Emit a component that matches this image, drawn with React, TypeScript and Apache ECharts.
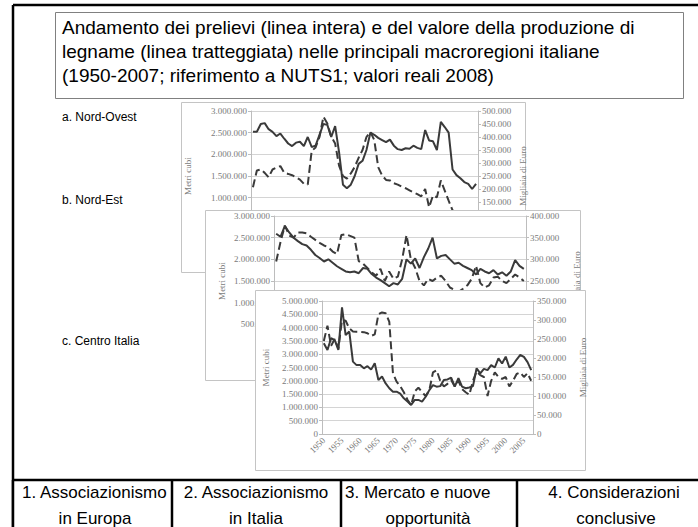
import React, { useEffect, useRef } from "react";
import * as echarts from "echarts";

const categories = [
  "1950","1951","1952","1953","1954","1955","1956","1957","1958","1959",
  "1960","1961","1962","1963","1964","1965","1966","1967","1968","1969",
  "1970","1971","1972","1973","1974","1975","1976","1977","1978","1979",
  "1980","1981","1982","1983","1984","1985","1986","1987","1988","1989",
  "1990","1991","1992","1993","1994","1995","1996","1997","1998","1999",
  "2000","2001","2002","2003","2004","2005","2006","2007",
];
const xTickLabels = ["1950","1955","1960","1965","1970","1975","1980","1985","1990","1995","2000","2005"];

// a. Nord-Ovest
const nordOvestPrelievi = [
  2520000, 2520000, 2700000, 2720000, 2580000, 2520000, 2420000, 2480000, 2360000, 2250000,
  2190000, 2270000, 2290000, 2190000, 2400000, 2170000, 2200000, 2450000, 2700000, 2680000,
  2400000, 2650000, 2050000, 1300000, 1220000, 1300000, 1500000, 1780000, 1850000, 2100000,
  2500000, 2450000, 2380000, 2330000, 2280000, 2340000, 2200000, 2120000, 2100000, 2140000,
  2130000, 2200000, 2150000, 2120000, 2560000, 2320000, 2300000, 2100000, 2750000, 2630000,
  2500000, 1650000, 1520000, 1450000, 1360000, 1320000, 1200000, 1320000,
];
const nordOvestValore = [
  207000, 271000, 275000, 262000, 245000, 275000, 282000, 288000, 262000, 258000,
  253000, 245000, 236000, 220000, 217000, 346000, 360000, 400000, 478000, 452000,
  401000, 375000, 290000, 250000, 240000, 260000, 285000, 320000, 350000, 400000,
  420000, 388000, 284000, 252000, 235000, 233000, 222000, 217000, 209000, 203000,
  195000, 187000, 180000, 172000, 200000, 130000, 175000, 168000, 233000, 194000,
  155000, 118000, 95000, 85000, 90000, 80000, 85000, 90000,
];

// b. Nord-Est
const nordEstPrelievi = [
  2590000, 2520000, 2770000, 2620000, 2500000, 2420000, 2350000, 2320000, 2220000, 2100000,
  2030000, 1950000, 2000000, 1920000, 1840000, 1780000, 1720000, 1700000, 1720000, 1680000,
  1800000, 1780000, 1660000, 1580000, 1520000, 1450000, 1380000, 1450000, 1420000, 1550000,
  2000000, 1900000, 2020000, 1800000, 2050000, 2250000, 2500000, 2020000, 2080000, 2100000,
  2000000, 1900000, 1920000, 1850000, 1800000, 1750000, 1650000, 1780000, 1720000, 1680000,
  1750000, 1650000, 1700000, 1620000, 1720000, 1980000, 1850000, 1780000,
];
const nordEstValore = [
  295000, 340000, 378000, 355000, 350000, 362000, 362000, 360000, 352000, 345000,
  338000, 332000, 328000, 318000, 312000, 356000, 358000, 354000, 350000, 296000,
  290000, 280000, 270000, 262000, 278000, 250000, 272000, 255000, 260000, 300000,
  356000, 300000, 280000, 250000, 240000, 255000, 250000, 258000, 262000, 250000,
  235000, 230000, 225000, 232000, 240000, 255000, 285000, 245000, 235000, 240000,
  258000, 260000, 250000, 245000, 255000, 265000, 258000, 250000,
];

// c. Centro Italia
const centroPrelievi = [
  3410000, 3160000, 3600000, 3530000, 3160000, 4760000, 3720000, 3850000, 2720000, 2590000,
  2590000, 2470000, 2550000, 2420000, 2660000, 2030000, 2160000, 1900000, 1720000, 1590000,
  1590000, 1520000, 1340000, 1220000, 1090000, 1280000, 1280000, 1220000, 1400000, 1650000,
  1840000, 1780000, 1800000, 2030000, 2050000, 2120000, 1780000, 2100000, 1780000, 1720000,
  1750000, 1800000, 2470000, 2280000, 2450000, 2400000, 2590000, 2500000, 2840000, 2650000,
  2910000, 2500000, 2600000, 2800000, 2970000, 2900000, 2700000, 2400000,
];
const centroValore = [
  245000, 285000, 232000, 250000, 225000, 300000, 298000, 278000, 270000, 269000,
  269000, 268000, 265000, 258000, 262000, 315000, 320000, 318000, 295000, 160000,
  138000, 126000, 110000, 90000, 76000, 112000, 122000, 110000, 100000, 115000,
  162000, 168000, 140000, 125000, 132000, 142000, 125000, 140000, 118000, 110000,
  103000, 140000, 165000, 155000, 150000, 100000, 140000, 162000, 150000, 145000,
  150000, 125000, 140000, 158000, 162000, 150000, 160000, 140000,
];

const titleLines = [
  "Andamento dei prelievi (linea intera) e del valore della produzione di",
  "legname (linea tratteggiata) nelle principali macroregioni italiane",
  "(1950-2007; riferimento a NUTS1; valori reali 2008)",
];
const panelLabels = ["a. Nord-Ovest", "b. Nord-Est", "c. Centro Italia"];
const leftAxisName = "Metri cubi";
const rightAxisName = "Migliaia di Euro";

const fmt = (v: number) => String(Math.round(v)).replace(/\B(?=(\d{3})+(?!\d))/g, ".");

const SANS = '"Liberation Sans", Arial, sans-serif';
const SERIF = '"Liberation Serif", "Times New Roman", serif';
const LINE = "#3a3a3a";
const GRID = "#d4d4d4";
const LABEL = "#7a7a7a";

export default function App() {
  const ref = useRef<HTMLDivElement>(null);
  useEffect(() => {
    if (!ref.current) return;
    const chart = echarts.init(ref.current, undefined, { renderer: "svg" });

    const grids = [
      { left: 251, top: 111, width: 227, height: 130 },
      { left: 274, top: 216, width: 252, height: 130 },
      { left: 322, top: 301, width: 211, height: 133 },
    ];
    const zBase = [2, 11, 21];
    // labelFrom: tick labels below this value lie under the next (overlapping) chart picture
    const leftCfg = [
      { min: 0, max: 3000000, interval: 500000, gap: 59, labelFrom: 1000000 },
      { min: 0, max: 3000000, interval: 500000, gap: 48, labelFrom: 500000 },
      { min: 0, max: 5000000, interval: 500000, gap: 52, labelFrom: 0 },
    ];
    const rightCfg = [
      { min: 0, max: 500000, interval: 50000, gap: 40, labelFrom: 150000 },
      { min: 100000, max: 400000, interval: 50000, gap: 46, labelFrom: 250000 },
      { min: 0, max: 350000, interval: 50000, gap: 45, labelFrom: 0 },
    ];
    const solid = [nordOvestPrelievi, nordEstPrelievi, centroPrelievi];
    const dashed = [nordOvestValore, nordEstValore, centroValore];

    const xAxis = grids.map((_, i) => ({
      type: "category",
      gridIndex: i,
      data: categories,
      boundaryGap: true,
      z: zBase[i],
      axisLine: { show: true, lineStyle: { color: "#bdbdbd", width: 1 } },
      axisTick: { show: false },
      axisLabel: {
        show: i === 2,
        interval: (_idx: number, value: string) => xTickLabels.includes(value),
        rotate: 45,
        fontFamily: SERIF,
        fontSize: 9,
        color: LABEL,
        margin: 5,
      },
      splitLine: { show: false },
    }));

    const yAxis: any[] = [];
    grids.forEach((_, i) => {
      const lc = leftCfg[i];
      const rc = rightCfg[i];
      yAxis.push({
        type: "value",
        gridIndex: i,
        position: "left",
        min: lc.min,
        max: lc.max,
        interval: lc.interval,
        z: zBase[i],
        name: leftAxisName,
        nameLocation: "middle",
        nameRotate: 90,
        nameGap: lc.gap,
        nameTextStyle: { fontFamily: SERIF, fontSize: 9, color: LABEL },
        axisLine: { show: true, lineStyle: { color: "#bdbdbd" } },
        axisTick: { show: true, length: 3, lineStyle: { color: "#bdbdbd" } },
        axisLabel: {
          formatter: (v: number) => (v >= lc.labelFrom ? fmt(v) : ""),
          fontFamily: SERIF, fontSize: 9, color: LABEL, margin: 4,
        },
        splitLine: { show: true, lineStyle: { color: GRID, width: 1 } },
      });
      yAxis.push({
        type: "value",
        gridIndex: i,
        position: "right",
        min: rc.min,
        max: rc.max,
        interval: rc.interval,
        z: zBase[i],
        name: rightAxisName,
        nameLocation: "middle",
        nameRotate: 90,
        nameGap: rc.gap,
        nameTextStyle: { fontFamily: SERIF, fontSize: 9, color: LABEL },
        axisLine: { show: true, lineStyle: { color: "#bdbdbd" } },
        axisTick: { show: true, length: 3, lineStyle: { color: "#bdbdbd" } },
        axisLabel: {
          formatter: (v: number) => (v >= rc.labelFrom ? fmt(v) : ""),
          fontFamily: SERIF, fontSize: 9, color: LABEL, margin: 4,
        },
        splitLine: { show: false },
      });
    });

    const series: any[] = [];
    grids.forEach((_, i) => {
      series.push({
        type: "line",
        xAxisIndex: i,
        yAxisIndex: i * 2,
        data: solid[i],
        symbol: "none",
        z: zBase[i] + 1,
        lineStyle: { color: LINE, width: 2 },
      });
      series.push({
        type: "line",
        xAxisIndex: i,
        yAxisIndex: i * 2 + 1,
        data: dashed[i],
        symbol: "none",
        z: zBase[i] + 1,
        lineStyle: { color: LINE, width: 2, type: [8, 4] },
      });
    });

    const frames = [
      { x: 181, y: 102, w: 344, h: 170, z: 1 },
      { x: 205, y: 210, w: 375, h: 170, z: 10 },
      { x: 255, y: 290, w: 330, h: 180, z: 20 },
    ];

    const graphic: any[] = [];
    frames.forEach((f) => {
      graphic.push({
        type: "rect",
        z: f.z,
        shape: { x: f.x + 0.5, y: f.y + 0.5, width: f.w, height: f.h },
        style: { fill: "#ffffff", stroke: "#c4c4c4", lineWidth: 1 },
      });
    });

    // outer slide frame
    graphic.push({ type: "line", z: 40, shape: { x1: 13, y1: 5, x2: 698, y2: 5 }, style: { stroke: "#000", lineWidth: 2.5 } });
    graphic.push({ type: "line", z: 40, shape: { x1: 13, y1: 5, x2: 13, y2: 527 }, style: { stroke: "#000", lineWidth: 2.5 } });

    // title box
    graphic.push({
      type: "rect",
      z: 40,
      shape: { x: 55.5, y: 12.5, width: 628, height: 86 },
      style: { fill: "#ffffff", stroke: "#808080", lineWidth: 1 },
    });
    titleLines.forEach((t, k) => {
      graphic.push({
        type: "text",
        z: 41,
        x: 62,
        y: 27 + k * 24,
        style: { text: t, fontFamily: SANS, fontSize: 19, fill: "#000", verticalAlign: "middle" },
      });
    });

    // panel labels
    const labelY = [117, 200, 341];
    panelLabels.forEach((t, k) => {
      graphic.push({
        type: "text",
        z: 41,
        x: 62,
        y: labelY[k],
        style: { text: t, fontFamily: SANS, fontSize: 12, fill: "#000", verticalAlign: "middle" },
      });
    });

    // navigation bar
    const navTop = 480;
    graphic.push({ type: "rect", z: 40, shape: { x: 13, y: navTop, width: 685, height: 47 }, style: { fill: "#fff" } });
    graphic.push({ type: "line", z: 42, shape: { x1: 13, y1: navTop, x2: 698, y2: navTop }, style: { stroke: "#000", lineWidth: 2.5 } });
    graphic.push({ type: "line", z: 42, shape: { x1: 13, y1: navTop, x2: 13, y2: 527 }, style: { stroke: "#000", lineWidth: 2.5 } });
    [172, 341, 517].forEach((sx) => {
      graphic.push({ type: "line", z: 42, shape: { x1: sx, y1: navTop, x2: sx, y2: 527 }, style: { stroke: "#000", lineWidth: 2.5 } });
    });
    const navText = (text: string, x: number, y: number, align: string) => ({
      type: "text",
      z: 43,
      x,
      y,
      style: { text, fontFamily: SANS, fontSize: 17, fill: "#000", align, verticalAlign: "middle" },
    });
    const r1 = 492;
    const r2 = 518;
    graphic.push(navText("1.", 22, r1, "left"));
    graphic.push(navText("Associazionismo", 40, r1, "left"));
    graphic.push(navText("in Europa", 95, r2, "center"));
    graphic.push(navText("2. Associazionismo", 256, r1, "center"));
    graphic.push(navText("in Italia", 256, r2, "center"));
    graphic.push(navText("3. Mercato e nuove", 345, r1, "left"));
    graphic.push(navText("opportunità", 428, r2, "center"));
    graphic.push(navText("4. Considerazioni", 614, r1, "center"));
    graphic.push(navText("conclusive", 616, r2, "center"));

    chart.setOption({
      animation: false,
      backgroundColor: "#ffffff",
      grid: grids.map((g) => ({ ...g, containLabel: false })),
      xAxis,
      yAxis,
      series,
      graphic,
    });
    return () => chart.dispose();
  }, []);
  return <div ref={ref} style={{ position: "absolute", left: 0, top: 0, width: 698, height: 527 }} />;
}
